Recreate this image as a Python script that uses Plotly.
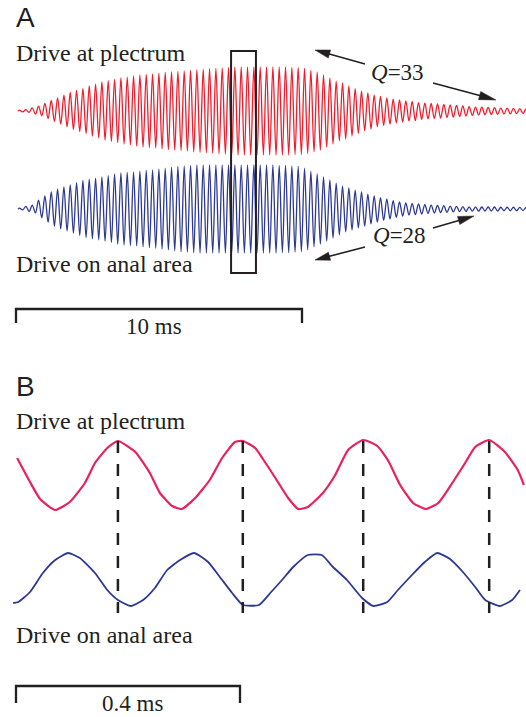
import numpy as np
import plotly.graph_objects as go

W, H = 526, 717

# ---------------- data ----------------
# Panel A: carrier period and per-cycle peak amplitude (% of maximum)
PERIOD_MS = 0.2214
A_START_MS = 0.07
red_A_amp = [2, 3, 7, 11, 17, 24, 30, 36, 42, 47, 51, 57, 61, 66, 69, 72, 75, 77, 80, 82,
             83, 84, 86, 88, 89, 90, 91, 93, 94, 95, 96, 97, 98, 99, 100, 100, 100, 100, 100, 100,
             100, 100, 100, 99, 99, 97, 93, 89, 82, 75, 68, 64, 57, 51, 45, 41, 36, 33, 30, 27,
             25, 23, 22, 19, 18, 17, 16, 15, 14, 12.5, 11.5, 10, 9, 8.5, 8, 7.5, 7, 6.5, 6, 5.5,
             5]
blue_A_amp = [2, 6, 9, 20, 30, 39, 45, 50, 55, 60, 65, 68, 70, 73, 76, 80, 82, 83, 84, 86,
              88, 89, 91, 93, 95, 97, 98, 99, 100, 100, 100, 100, 100, 100, 100, 100, 100, 100, 100, 100,
              100, 99, 99, 98, 97, 93, 86, 80, 73, 66, 59, 52, 48, 43, 39, 34, 30, 26, 23, 19,
              16, 14, 13, 11.5, 10, 9, 8, 7.5, 6.5, 6, 5.5, 5, 5, 4.5, 4.5, 4.5, 4, 4, 4, 3.5,
              3.5]
BOX_START_MS, BOX_END_MS = 7.52, 8.39
SCALE_A_MS = 10

# Panel B: expanded 0.9 ms window (time in microseconds, amplitude in a.u.)
red_B_t_us = [2, 25, 43, 70, 96, 123, 141, 163, 182, 213, 239, 257, 279, 296, 320, 346, 368, 391,
              405, 427, 441, 462, 486, 504, 521, 548, 570, 593, 620, 645, 664, 686, 709, 732, 754,
              779, 802, 820, 845, 873, 896, 907]
red_B_val = [17, -7, -24, -35, -27, -8, 12, 27, 34, 23, 2, -18, -31, -34, -23, -5, 17, 33,
             34, 27, 16, -2, -23, -34, -32, -18, 0, 25, 35, 29, 15, -10, -28, -34, -28,
             -8, 12, 28, 35, 23, 5, -10]
blue_B_t_us = [-5, 4, 25, 48, 70, 93, 114, 141, 163, 182, 205, 227, 248, 270, 293, 318, 343, 364,
               386, 405, 434, 454, 475, 495, 521, 546, 566, 591, 618, 638, 663, 682, 707, 730, 752,
               775, 798, 820, 838, 864, 886, 900]
blue_B_val = [-23, -22, -12, 7, 20, 27, 22, 7, -10, -20, -26, -20, -8, 10, 20, 27, 18, 3,
              -13, -25, -25, -13, 0, 13, 25, 25, 13, 0, -18, -26, -22, -10, 5, 18, 27,
              21, 8, -7, -20, -26, -20, -10]
SCALE_B_MS = 0.4

# ---------------- styling ----------------
RED_A = "#f01c2c"
RED_B = "#e8215f"
BLUE = "#2c3893"
INK = "#231f20"
SERIF = "Liberation Serif, Times New Roman, serif"
SANS = "Liberation Sans, Arial, sans-serif"


def py(p):
    return 1 - p / H


def px(p):
    return p / W


def burst(amps):
    t = [A_START_MS]
    v = [0.0]
    for k, a in enumerate(amps):
        t += [A_START_MS + (k + 0.25) * PERIOD_MS, A_START_MS + (k + 0.75) * PERIOD_MS]
        v += [a, -a]
    return t, v


def yax(center, s, top, bot):
    return dict(domain=[1 - bot / H, 1 - top / H],
                range=[-(bot - center) / s, (center - top) / s],
                visible=False, fixedrange=True)


fig = go.Figure()
tA, vA = burst(red_A_amp)
fig.add_trace(go.Scatter(x=tA, y=vA, mode="lines", line=dict(color=RED_A, width=1.3, shape="spline"),
                         xaxis="x", yaxis="y", hoverinfo="skip"))
tB, vB = burst(blue_A_amp)
fig.add_trace(go.Scatter(x=tB, y=vB, mode="lines", line=dict(color=BLUE, width=1.3, shape="spline"),
                         xaxis="x", yaxis="y2", hoverinfo="skip"))
fig.add_trace(go.Scatter(x=np.array(red_B_t_us) / 1000, y=red_B_val, mode="lines",
                         line=dict(color=RED_B, width=2.2, shape="spline", smoothing=0.5),
                         xaxis="x2", yaxis="y3", hoverinfo="skip"))
fig.add_trace(go.Scatter(x=np.array(blue_B_t_us) / 1000, y=blue_B_val, mode="lines",
                         line=dict(color=BLUE, width=1.8, shape="spline", smoothing=0.5),
                         xaxis="x2", yaxis="y4", hoverinfo="skip"))

pxA = 28.6   # px per ms in panel A
pxB = 560.0  # px per ms in panel B
shapes = []

# box marking the expanded window
shapes.append(dict(type="rect", xref="x", yref="paper", x0=BOX_START_MS, x1=BOX_END_MS,
                   y0=py(273), y1=py(51), line=dict(color=INK, width=2)))

# scale bars
shapes.append(dict(type="path", xref="x", yref="paper",
                   path=f"M 0,{py(323)} L 0,{py(309)} L {SCALE_A_MS},{py(309)} L {SCALE_A_MS},{py(323)}",
                   line=dict(color=INK, width=2.3)))
shapes.append(dict(type="path", xref="x2", yref="paper",
                   path=f"M 0,{py(703)} L 0,{py(686)} L {SCALE_B_MS},{py(686)} L {SCALE_B_MS},{py(703)}",
                   line=dict(color=INK, width=2.3)))

# dashed lines at the plectrum-drive peaks
rv = np.array(red_B_val)
rt = np.array(red_B_t_us) / 1000
for i in range(1, len(rv) - 1):
    if rv[i] >= rv[i - 1] and rv[i] > rv[i + 1] and rv[i] > 30:
        shapes.append(dict(type="line", xref="x2", yref="paper", x0=rt[i], x1=rt[i],
                           y0=py(441), y1=py(613), line=dict(color=INK, width=2.5, dash="12px,11px")))


# arrows (tail -> tip, pixel positions of the annotation layout)
def arrow(tail, tip, L=15.0, hw=4.2):
    tip = np.array(tip, float)
    tail = np.array(tail, float)
    d = tail - tip
    d /= np.hypot(*d)
    n = np.array([-d[1], d[0]])
    base = tip + d * L
    p1 = base + n * hw
    p2 = base - n * hw
    shapes.append(dict(type="line", xref="paper", yref="paper",
                       x0=px(tail[0]), y0=py(tail[1]), x1=px(base[0] - d[0] * 2), y1=py(base[1] - d[1] * 2),
                       line=dict(color=INK, width=1.6)))
    shapes.append(dict(type="path", xref="paper", yref="paper",
                       path=f"M {px(tip[0])},{py(tip[1])} L {px(p1[0])},{py(p1[1])} L {px(p2[0])},{py(p2[1])} Z",
                       fillcolor=INK, line=dict(color=INK, width=0.5)))


arrow((365, 64), (315, 50))
arrow((433, 83), (496, 100), L=17)
arrow((365, 247), (315, 260))
arrow((433, 228), (474, 216), L=16)


def label(text, x, y, size, family=SERIF, xanchor="left"):
    return dict(text=text, x=px(x), y=py(y), xref="paper", yref="paper", xanchor=xanchor,
                yanchor="middle", showarrow=False, font=dict(family=family, size=size, color=INK))


annotations = [
    label("A", 14, 18, 28, SANS),
    label("Drive at plectrum", 14, 53, 24),
    label("Drive on anal area", 14, 264, 24),
    label("<i>Q</i>=33", 369, 73, 23),
    label("<i>Q</i>=28", 371, 235, 23),
    label("10 ms", 154, 326, 23, xanchor="center"),
    label("B", 14, 386, 28, SANS),
    label("Drive at plectrum", 14, 421, 24),
    label("Drive on anal area", 14, 635, 24),
    label("0.4 ms", 132, 703, 23, xanchor="center"),
]

fig.update_layout(
    width=W, height=H, margin=dict(l=0, r=0, t=0, b=0),
    paper_bgcolor="white", plot_bgcolor="rgba(0,0,0,0)", showlegend=False,
    xaxis=dict(domain=[0, 1], range=[-16 / pxA, (W - 16) / pxA], visible=False, fixedrange=True),
    xaxis2=dict(domain=[0, 1], range=[-16 / pxB, (W - 16) / pxB], visible=False, fixedrange=True,
                anchor="y3"),
    yaxis=yax(111, 0.44, 40, 185),
    yaxis2=dict(**yax(209, 0.44, 150, 290), anchor="x"),
    yaxis3=dict(**yax(475, 1.0, 430, 520), anchor="x2"),
    yaxis4=dict(**yax(580, 1.0, 540, 620), anchor="x2"),
    shapes=shapes, annotations=annotations,
)

fig.write_html("out.html", config={"displayModeBar": False},
               post_script="document.body.style.margin='0px';document.body.style.overflow='hidden';")
